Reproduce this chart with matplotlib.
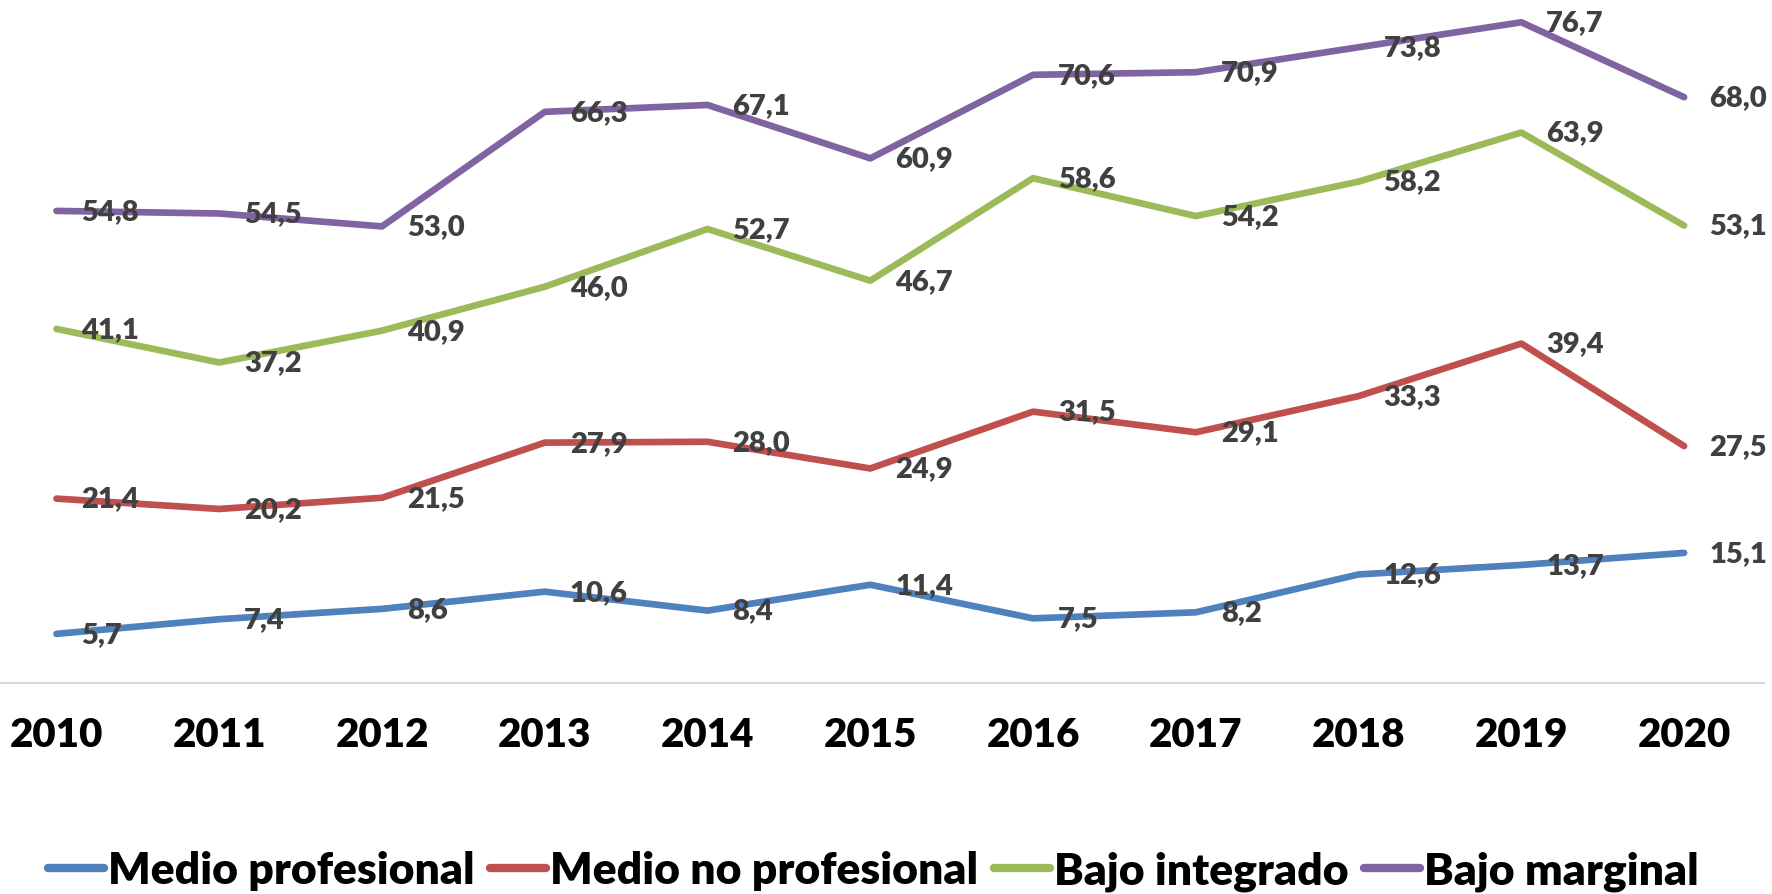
import matplotlib.pyplot as plt

years = [2010, 2011, 2012, 2013, 2014, 2015, 2016, 2017, 2018, 2019, 2020]
medio_prof = [5.7, 7.4, 8.6, 10.6, 8.4, 11.4, 7.5, 8.2, 12.6, 13.7, 15.1]
medio_no_prof = [21.4, 20.2, 21.5, 27.9, 28.0, 24.9, 31.5, 29.1, 33.3, 39.4, 27.5]
bajo_integrado = [41.1, 37.2, 40.9, 46.0, 52.7, 46.7, 58.6, 54.2, 58.2, 63.9, 53.1]
bajo_marginal = [54.8, 54.5, 53.0, 66.3, 67.1, 60.9, 70.6, 70.9, 73.8, 76.7, 68.0]

series = [
    ("Medio profesional", medio_prof, "#4F81BD"),
    ("Medio no profesional", medio_no_prof, "#C0504D"),
    ("Bajo integrado", bajo_integrado, "#9BBB59"),
    ("Bajo marginal", bajo_marginal, "#8064A2"),
]

fnt = ["Lato", "DejaVu Sans"]

fig = plt.figure(figsize=(17.72, 8.95), dpi=100)
ax = fig.add_axes([0, 0.2358, 1, 0.7642])

for name, vals, col in series:
    ax.plot(years, vals, color=col, lw=4.8, label=name, solid_capstyle="round",
            solid_joinstyle="round", clip_on=False)
    for x, v in zip(years, vals):
        ax.annotate(f"{v:.1f}".replace(".", ","), (x, v), xytext=(18, 0),
                    textcoords="offset points", ha="left", va="center",
                    fontsize=21, fontweight="heavy", color="#404040",
                    family=fnt, annotation_clip=False)

ax.set_xlim(2009.653, 2020.54)
ax.set_ylim(0, 79.4)
ax.set_xticks(years)
ax.set_xticklabels([str(y) for y in years], fontsize=29, fontweight="heavy",
                   family=fnt)
ax.tick_params(axis="x", length=0, pad=24)
ax.set_yticks([])
for s in ["top", "left", "right"]:
    ax.spines[s].set_visible(False)
ax.spines["bottom"].set_color("#D9D9D9")
ax.spines["bottom"].set_linewidth(1.5)
ax.spines["bottom"].set_bounds(2009.653, 2020.49)

leg = fig.legend(loc="center", bbox_to_anchor=(0.493, 0.026), ncol=4, frameon=False,
                 handlelength=1.25, handletextpad=0.1, columnspacing=0.35,
                 prop={"family": fnt, "weight": "heavy", "size": 32})
for h in leg.get_lines():
    h.set_linewidth(6)
    h.set_solid_capstyle("round")

fig.savefig("out.png", dpi=100)
